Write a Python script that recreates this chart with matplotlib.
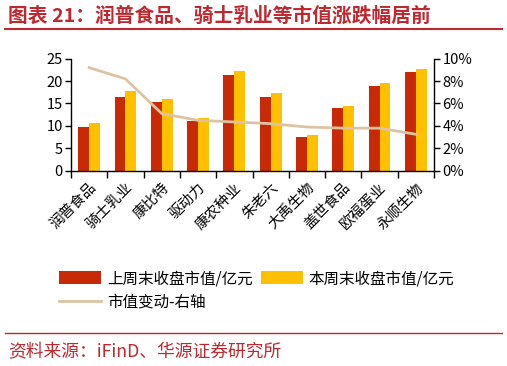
import matplotlib.pyplot as plt
import matplotlib.ticker as ticker
import numpy as np

plt.rcParams['font.family'] = ['Noto Sans CJK SC', 'DejaVu Sans']

categories = ['润普食品', '骑士乳业', '康比特', '驱动力', '康农种业',
              '朱老六', '大禹生物', '盖世食品', '欧福蛋业', '永顺生物']
last_week = [9.8, 16.4, 15.4, 11.2, 21.4, 16.5, 7.6, 14.0, 18.8, 22.0]
this_week = [10.6, 17.7, 16.1, 11.7, 22.2, 17.3, 7.9, 14.5, 19.5, 22.6]
change_pct = [9.2, 8.2, 5.1, 4.5, 4.35, 4.2, 3.9, 3.8, 3.8, 3.25]

RED = '#C82A08'
YELLOW = '#FFC000'
LINE = '#DCC4A2'
TITLE_RED = '#C0282F'

fig = plt.figure(figsize=(5.07, 3.66), dpi=100)

# title and frame lines
fig.text(8 / 507, 1 - 16 / 366, '图表 21：润普食品、骑士乳业等市值涨跌幅居前',
         color=TITLE_RED, fontsize=14.2, fontweight='bold', va='center', ha='left')
fig.add_artist(plt.Line2D([5 / 507, 502 / 507], [1 - 29 / 366, 1 - 29 / 366],
                          color=TITLE_RED, lw=1.5))
fig.add_artist(plt.Line2D([5 / 507, 502 / 507], [1 - 333 / 366, 1 - 333 / 366],
                          color=TITLE_RED, lw=1.0))
fig.text(8 / 507, 1 - 352 / 366, '资料来源：iFinD、华源证券研究所',
         color=TITLE_RED, fontsize=12.8, va='center', ha='left')

ax = fig.add_axes([71 / 507, 1 - 170.7 / 366, (434 - 71) / 507, 112 / 366])
x = np.arange(len(categories))
w = 0.3
ax.bar(x - w / 2, last_week, width=w, color=RED, label='上周末收盘市值/亿元', zorder=2)
ax.bar(x + w / 2, this_week, width=w, color=YELLOW, label='本周末收盘市值/亿元', zorder=2)

ax.set_xlim(-0.5, len(categories) - 0.5)
ax.set_ylim(0, 25)
ax.set_yticks([0, 5, 10, 15, 20, 25])
ax.set_xticks(x)
ax.set_xticklabels(categories, rotation=45, ha='right', rotation_mode='anchor', fontsize=10.5)
ax.tick_params(axis='x', length=0, pad=7)
ax.set_xticks(np.arange(-0.5, len(categories)), minor=True)
ax.tick_params(axis='x', which='minor', length=5, direction='out', width=1)
ax.tick_params(axis='y', labelsize=10.5, length=4, width=1, pad=2)
ax.spines['top'].set_visible(False)
ax.spines['right'].set_visible(False)
for s in ['left', 'bottom']:
    ax.spines[s].set_linewidth(1)

ax2 = ax.twinx()
ax2.plot(x, change_pct, color=LINE, lw=2, label='市值变动-右轴', zorder=3)
ax2.set_ylim(0, 10)
ax2.set_yticks([0, 2, 4, 6, 8, 10])
ax2.yaxis.set_major_formatter(ticker.FuncFormatter(lambda v, p: f'{v:.0f}%'))
ax2.tick_params(axis='y', labelsize=10.5, length=4, width=1, pad=2)
ax2.spines['top'].set_visible(False)
ax2.spines['left'].set_visible(False)
ax2.spines['bottom'].set_visible(False)
ax2.spines['right'].set_linewidth(1)

h1, l1 = ax.get_legend_handles_labels()
h2, l2 = ax2.get_legend_handles_labels()
handles = [h1[0], h2[0], h1[1]]
labels = [l1[0], l2[0], l1[1]]
fig.legend(handles, labels, loc='upper left', bbox_to_anchor=(45 / 507, 1 - 256 / 366),
           ncol=2, frameon=False, fontsize=11.2, handlelength=2.7, handleheight=0.9,
           columnspacing=0.5, handletextpad=0.4, labelspacing=0.45)

fig.savefig('out.png', dpi=100)
